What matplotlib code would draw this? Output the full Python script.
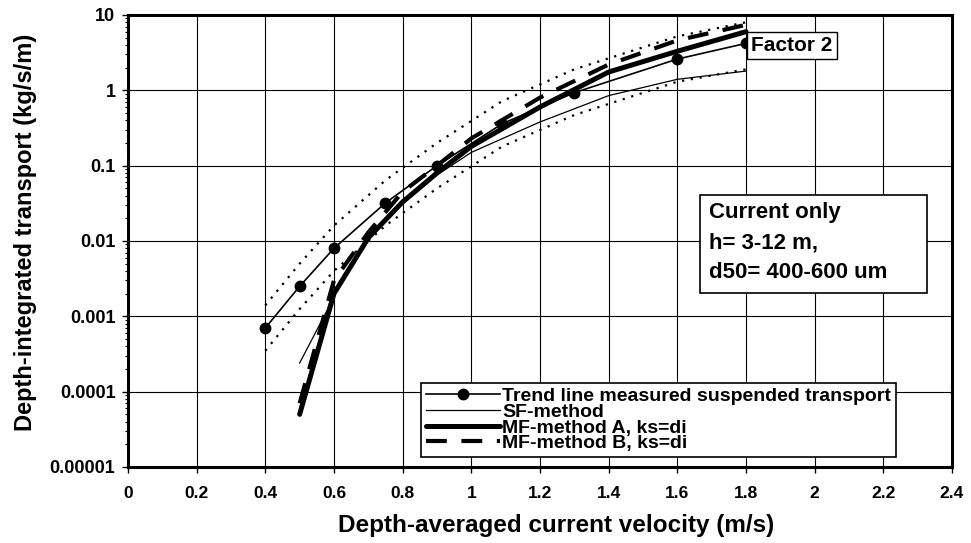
import matplotlib
matplotlib.use("Agg")
import matplotlib.pyplot as plt
from matplotlib.patches import Rectangle

plt.rcParams['font.family'] = ['Liberation Sans', 'DejaVu Sans']
plt.rcParams['font.weight'] = 'bold'

# trend line through measured suspended transport (with factor 2 band)
velocity_trend = [0.4, 0.5, 0.6, 0.75, 0.9, 1.09, 1.3, 1.6, 1.8]
transport_trend = [0.0007, 0.0025, 0.008, 0.032, 0.1, 0.36, 0.93, 2.6, 4.2]
factor2_upper = [0.0014, 0.005, 0.016, 0.064, 0.2, 0.72, 1.9, 5.2, 8.0]
factor2_lower = [0.00035, 0.00125, 0.004, 0.016, 0.05, 0.18, 0.47, 1.3, 1.9]

# model results
velocity_sf = [0.5, 0.58, 0.6, 0.7, 0.8, 0.9, 1.0, 1.2, 1.4, 1.6, 1.8]
transport_sf = [0.00024, 0.0012, 0.0022, 0.011, 0.031, 0.075, 0.15, 0.38, 0.85, 1.4, 1.8]
velocity_mf = [0.5, 0.6, 0.7, 0.8, 0.9, 1.0, 1.2, 1.4, 1.6, 1.8]
transport_mf_a = [5e-5, 0.002, 0.011, 0.033, 0.08, 0.18, 0.6, 1.75, 3.3, 6.0]
transport_mf_b = [7e-5, 0.003, 0.013, 0.045, 0.1, 0.23, 0.8, 2.2, 4.6, 7.4]

x_ticks = [0, 0.2, 0.4, 0.6, 0.8, 1.0, 1.2, 1.4, 1.6, 1.8, 2.0, 2.2, 2.4]
x_labels = ['0', '0.2', '0.4', '0.6', '0.8', '1', '1.2', '1.4', '1.6', '1.8', '2', '2.2', '2.4']
y_ticks = [1e-5, 1e-4, 1e-3, 1e-2, 1e-1, 1, 10]
y_labels = ['0.00001', '0.0001', '0.001', '0.01', '0.1', '1', '10']

fig = plt.figure(figsize=(9.71, 5.43), dpi=100)
ax = fig.add_axes([0.1318, 0.14, 0.8486, 0.8324])

ax.plot(velocity_trend, factor2_upper, color='black', lw=1.6, linestyle=(0, (1, 3)))
ax.plot(velocity_trend, factor2_lower, color='black', lw=1.6, linestyle=(0, (1, 3)))
ax.plot(velocity_trend, transport_trend, color='black', lw=1.2, marker='o', ms=7.5,
        label='Trend line measured suspended transport')
ax.plot(velocity_sf, transport_sf, color='black', lw=0.9, label='SF-method')
ax.plot(velocity_mf, transport_mf_a, color='black', lw=3.6, solid_capstyle='round',
        label='MF-method A, ks=di')
ax.plot(velocity_mf, transport_mf_b, color='black', lw=3.0, dashes=(5, 3.5),
        label='MF-method B, ks=di')

ax.set_yscale('log')
ax.set_xlim(0, 2.4)
ax.set_ylim(1e-5, 10)
ax.set_xticks(x_ticks)
ax.set_xticklabels(x_labels, fontsize=12.5, fontweight='bold')
ax.set_yticks(y_ticks)
ax.set_yticklabels(y_labels, fontsize=13, fontweight='bold')
ax.tick_params(axis='both', which='major', direction='out', length=4, width=1, color='black')
ax.tick_params(axis='x', pad=10)
ax.tick_params(axis='y', which='minor', direction='out', length=2.5, width=0.8)
ax.tick_params(axis='y', pad=5)

ax.grid(True, which='major', color='black', lw=0.8)
ax.set_axisbelow(True)
for s in ax.spines.values():
    s.set_linewidth(2.2)

ax.set_xlabel('Depth-averaged current velocity (m/s)', fontsize=17.5, fontweight='bold', labelpad=9)
ax.xaxis.set_label_coords(0.519, -0.105)
ax.set_ylabel('Depth-integrated transport (kg/s/m)', fontsize=17, fontweight='bold', labelpad=7)
ax.yaxis.set_label_coords(-0.111, 0.518)

leg = ax.legend(loc='lower left', bbox_to_anchor=(0.356, 0.022), borderaxespad=0,
                handlelength=3.8, handletextpad=0.1, labelspacing=-0.1,
                borderpad=0.25, fancybox=False, framealpha=1, edgecolor='black',
                prop={'weight': 'bold', 'size': 14})
leg.get_frame().set_linewidth(1.2)

ax.text(1.815, 3.9, 'Factor 2', fontsize=15, fontweight='bold', ha='left', va='center',
        bbox=dict(boxstyle='square,pad=0.2', facecolor='white', edgecolor='black', lw=1))

ax.add_patch(Rectangle((0.694, 0.384), 0.276, 0.218, transform=ax.transAxes,
                       facecolor='white', edgecolor='black', lw=1.2, zorder=5))
for yy, txt in zip([0.562, 0.496, 0.431], ['Current only', 'h= 3-12 m,', 'd50= 400-600 um']):
    ax.text(0.705, yy, txt, transform=ax.transAxes, fontsize=16, fontweight='bold',
            ha='left', va='center', zorder=6)

fig.savefig('out.png', dpi=100)
